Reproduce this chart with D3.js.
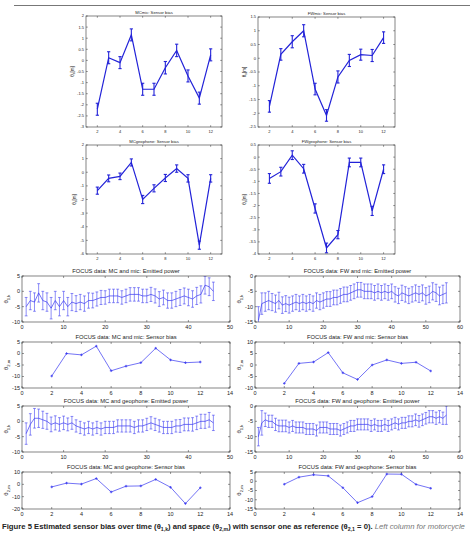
<!DOCTYPE html>
<html lang="en">
<head>
<meta charset="utf-8">
<title>Sensor bias</title>
<script src="https://d3js.org/d3.v7.min.js"></script>
<style>
  body, html { margin: 0; padding: 0; background: #fff; overflow: hidden; }
  text { font-family: "Liberation Sans", Arial, sans-serif; fill: #222; }
</style>
</head>
<body>
<svg width="474" height="534"></svg>
<script>
// ---- data: top 2x2 sensor bias (sensor index 2..12) ----
var sensors = [2, 3, 4, 5, 6, 7, 8, 9, 10, 11, 12];
var mcMicBias = [-2.2, 0.12, -0.1, 1.15, -1.3, -1.3, -0.33, 0.45, -0.7, -1.7, 0.25];
var mcMicErr = [0.27, 0.27, 0.27, 0.27, 0.27, 0.27, 0.28, 0.28, 0.27, 0.27, 0.27];
var fwMicBias = [-1.75, 0.14, 0.6, 1.0, -1.12, -2.08, -0.68, -0.08, 0.13, 0.1, 0.75];
var fwMicErr = [0.21, 0.21, 0.22, 0.22, 0.21, 0.21, 0.22, 0.22, 0.2, 0.22, 0.21];
var mcGeoBias = [-1.35, -0.45, -0.3, 0.72, -2.0, -1.18, -0.42, 0.27, -0.45, -5.35, -0.45];
var mcGeoErr = [0.26, 0.25, 0.24, 0.26, 0.3, 0.26, 0.26, 0.27, 0.27, 0.3, 0.27];
var fwGeoBias = [-0.88, -0.6, 0.08, -0.48, -2.12, -3.75, -3.2, -0.22, -0.22, -2.22, -0.5];
var fwGeoErr = [0.2, 0.18, 0.18, 0.18, 0.19, 0.2, 0.17, 0.18, 0.18, 0.19, 0.18];

// ---- data: FOCUS emitted power over time ----
var mcMicPower = [-5, -3, -3.5, -0.5, -3, -3.5, -5.5, -3, -5, -3, -5, -3.5, -4, -3.5, -4, -3,
  -3, -2.5, -2, -2, -1.5, -1.5, -1.5, -2, -1.5, -1, -1, -1, -1.5, -1.5, -1, -1.5, -2.5, -2,
  -3, -3, -2.5, -2, -1.5, -2, -2.5, -1.5, -1, 2, 1.5, 0];
var mcMicPowerErr = [3, 3, 3, 3, 3, 3, 3.5, 3, 3, 3, 3, 2.8, 2.6, 2.5, 2.5, 2.5, 2.4, 2.3,
  2.3, 2.2, 2.2, 2.2, 2.2, 2.2, 2.2, 2.2, 2.2, 2.2, 2.2, 2.2, 2.3, 2.3, 2.4, 2.4, 2.5, 2.5,
  2.5, 2.6, 2.6, 2.7, 2.7, 2.8, 2.8, 2.9, 2.9, 3];
var fwMicPower = [-14.5, -9, -8.5, -8, -8.5, -9, -8, -9.5, -9, -9.5, -9, -8.5, -9, -8.5, -9,
  -8.5, -9, -8, -8.5, -8, -7.5, -7.5, -7, -7, -6.5, -6, -6, -5.5, -5, -4.5, -4.5, -5, -5, -5,
  -5.5, -5, -5.5, -5, -5.5, -5, -6, -6.5, -5.5, -6, -6.5, -6, -5.5, -6, -5.5, -6.5, -6, -5,
  -5.5, -6.5, -6, -5.5];
var fwMicPowerErr = [4.5, 3.5, 3, 3, 2.8, 2.8, 2.7, 2.7, 2.6, 2.6, 2.5, 2.5, 2.5, 2.5, 2.5,
  2.5, 2.5, 2.5, 2.5, 2.5, 2.4, 2.4, 2.4, 2.4, 2.4, 2.4, 2.4, 2.4, 2.4, 2.4, 2.4, 2.4, 2.4,
  2.4, 2.4, 2.4, 2.4, 2.4, 2.4, 2.4, 2.5, 2.5, 2.5, 2.5, 2.5, 2.5, 2.6, 2.6, 2.6, 2.7, 2.7,
  2.8, 2.8, 2.9, 3, 3.3];
var mcGeoPower = [-4, -1, 1, 1, 0.5, 0, -1, -0.5, -1, -0.5, -1, -0.5, -1.5, -2, -2.5, -2,
  -2.5, -2, -2.5, -2, -2, -2, -1.5, -1.5, -1.5, -1.5, -2, -1.5, -1.5, -1, -0.5, -1, -1.5, -2,
  -2, -2, -1.5, -1.5, -1, -1, -1, -0.5, 0, 0, 0.5, -0.5];
var mcGeoPowerErr = [3.5, 3.5, 3.2, 3, 2.8, 2.6, 2.4, 2.3, 2.2, 2.2, 2.1, 2.1, 2, 2, 2, 2,
  2, 2, 2, 2, 2, 2, 2, 2, 2, 2, 2, 2, 2, 2, 2, 2, 2, 2, 2, 2, 2, 2.1, 2.1, 2.1, 2.2, 2.2, 2.3,
  2.3, 2.4, 2.5];
var fwGeoPower = [-10, -5.5, -4.5, -5, -5, -6, -6.5, -6.5, -6.5, -7, -6.5, -7, -7, -7, -7.5,
  -7.5, -7.5, -8, -7, -7, -7, -7.5, -7.5, -7.5, -8, -7.5, -7, -6.5, -6.5, -6, -6, -6, -6,
  -6.5, -6, -6.5, -6.5, -6, -6.5, -6, -5.5, -6, -5.5, -5.5, -5, -5, -4.5, -5, -4.5, -4,
  -3.5, -3.5, -4, -3.5, -4, -3];
var fwGeoPowerErr = [3, 4, 2.2, 2, 2, 2, 1.9, 1.9, 1.9, 1.8, 1.8, 1.8, 1.8, 1.8, 1.8, 1.8,
  1.8, 1.8, 1.8, 1.8, 1.8, 1.8, 1.8, 1.8, 1.8, 1.8, 1.8, 1.8, 1.8, 1.8, 1.8, 1.8, 1.8, 1.8,
  1.8, 1.8, 1.8, 1.8, 1.8, 1.8, 1.8, 1.8, 1.8, 1.8, 1.8, 1.8, 1.9, 1.9, 1.9, 1.9, 2, 2, 2,
  2, 2, 3];

// ---- data: FOCUS sensor bias (dB) ----
var mcMicSensor = [-9.8, 0, -0.6, 3.2, -7.5, -5.5, -4, 2.3, -2.8, -4, -3.7];
var fwMicSensor = [-8, 0.7, 1.3, 5.4, -3.4, -6.3, 0, 2.2, 0.7, 1.2, -2.6];
var mcGeoSensor = [-2.1, 1, 0.2, 4.7, -6.2, -1.5, -1.3, 4, -2.4, -15.6, -2.8];
var fwGeoSensor = [-1.6, 2.2, 3.5, 2.9, -3.5, -11.6, -8.3, 3.9, 3.8, -1.7, -3.8];

var svg = d3.select("svg");
var clipId = 0;

function seq(n) { return d3.range(1, n + 1); }

// one matlab-style panel
function panel(o) {
    var x = d3.scaleLinear().domain(o.xDomain).range([o.left, o.right]);
    var y = d3.scaleLinear().domain(o.yDomain).range([o.bottom, o.top]);
    var g = svg.append("g");
    var fs = o.fontSize, tl = o.tickLen;

    // ticks, mirrored inside the box
    o.xTicks.forEach(function (t) {
        g.append("line").attr("x1", x(t)).attr("x2", x(t)).attr("y1", o.bottom).attr("y2", o.bottom - tl)
            .attr("stroke", "#333").attr("stroke-width", 0.5);
        g.append("line").attr("x1", x(t)).attr("x2", x(t)).attr("y1", o.top).attr("y2", o.top + tl)
            .attr("stroke", "#333").attr("stroke-width", 0.5);
        g.append("text").attr("x", x(t)).attr("y", o.bottom + fs + 1.5)
            .attr("text-anchor", "middle").style("font-size", fs + "px").text(t);
    });
    o.yTicks.forEach(function (t) {
        g.append("line").attr("x1", o.left).attr("x2", o.left + tl).attr("y1", y(t)).attr("y2", y(t))
            .attr("stroke", "#333").attr("stroke-width", 0.5);
        g.append("line").attr("x1", o.right).attr("x2", o.right - tl).attr("y1", y(t)).attr("y2", y(t))
            .attr("stroke", "#333").attr("stroke-width", 0.5);
        g.append("text").attr("x", o.left - 2).attr("y", y(t) + fs * 0.35)
            .attr("text-anchor", "end").style("font-size", fs + "px").text(t);
    });

    var id = "clip" + (clipId++);
    g.append("clipPath").attr("id", id).append("rect")
        .attr("x", o.left).attr("y", o.top).attr("width", o.right - o.left).attr("height", o.bottom - o.top);
    var plot = g.append("g").attr("clip-path", "url(#" + id + ")");

    var pts = o.xs.map(function (d, i) { return { x: d, y: o.ys[i], e: o.errs ? o.errs[i] : 0 }; });

    if (o.errs) {
        var cap = o.capW;
        pts.forEach(function (p) {
            var a = y(p.y - p.e), b = y(p.y + p.e), cx = x(p.x);
            plot.append("line").attr("x1", cx).attr("x2", cx).attr("y1", a).attr("y2", b)
                .attr("stroke", o.errColor).attr("stroke-width", o.errWidth);
            [a, b].forEach(function (yy) {
                plot.append("line").attr("x1", cx - cap).attr("x2", cx + cap).attr("y1", yy).attr("y2", yy)
                    .attr("stroke", o.errColor).attr("stroke-width", o.errWidth);
            });
        });
    }

    plot.append("path").datum(pts)
        .attr("d", d3.line().x(function (d) { return x(d.x); }).y(function (d) { return y(d.y); }))
        .attr("fill", "none").attr("stroke", o.color).attr("stroke-width", o.lineWidth);

    if (o.markers) {
        plot.selectAll(".mk").data(pts).enter().append("path")
            .attr("d", function (d) {
                var cx = x(d.x), cy = y(d.y), s = 1.3;
                return "M" + (cx - s) + "," + cy + "H" + (cx + s) + "M" + cx + "," + (cy - s) + "V" + (cy + s);
            })
            .attr("stroke", o.color).attr("stroke-width", 0.8);
    }

    g.append("rect").attr("x", o.left).attr("y", o.top)
        .attr("width", o.right - o.left).attr("height", o.bottom - o.top)
        .attr("fill", "none").attr("stroke", "#333").attr("stroke-width", 0.6);

    g.append("text").attr("x", (o.left + o.right) / 2).attr("y", o.top - o.titleGap)
        .attr("text-anchor", "middle").style("font-size", o.titleSize + "px").text(o.title);

    var yl = g.append("text")
        .attr("transform", "translate(" + o.ylabelX + "," + (o.top + o.bottom) / 2 + ") rotate(-90)")
        .attr("text-anchor", "middle").style("font-size", o.ylabelSize + "px");
    yl.append("tspan").text(o.ylabel[0]);
    yl.append("tspan").attr("dy", o.ylabelSize * 0.3).style("font-size", (o.ylabelSize * 0.7) + "px").text(o.ylabel[1]);
    if (o.ylabel[2]) yl.append("tspan").attr("dy", -o.ylabelSize * 0.3).text(o.ylabel[2]);
}

// top border
svg.append("line").attr("x1", 14).attr("x2", 470).attr("y1", 5.5).attr("y2", 5.5)
    .attr("stroke", "#777").attr("stroke-width", 1);

// ---- top 2x2 ----
var topStyle = {
    xDomain: [1, 13], xTicks: [2, 4, 6, 8, 10, 12], fontSize: 4, tickLen: 1.8,
    titleSize: 4.2, titleGap: 2, ylabelSize: 4.5, color: "#2222d8", lineWidth: 1.2,
    errColor: "#2222d8", errWidth: 1.1, capW: 1.6
};
function topPanel(extra) { panel(Object.assign({}, topStyle, extra)); }

topPanel({ left: 86, right: 222, top: 16, bottom: 127, ylabelX: 74,
    yDomain: [-3, 2], yTicks: d3.range(-3, 2.01, 0.5).map(function (v) { return +v.toFixed(1); }),
    title: "MCmic: Sensor bias", ylabel: ["θ", "s", "[m]"], xs: sensors, ys: mcMicBias, errs: mcMicErr });
topPanel({ left: 258, right: 395, top: 17, bottom: 127, ylabelX: 246,
    yDomain: [-2.5, 1.5], yTicks: d3.range(-2.5, 1.51, 0.5).map(function (v) { return +v.toFixed(1); }),
    title: "FWmic: Sensor bias", ylabel: ["θ", "s", "[m]"], xs: sensors, ys: fwMicBias, errs: fwMicErr });
topPanel({ left: 86, right: 222, top: 145, bottom: 254, ylabelX: 76,
    yDomain: [-6, 2], yTicks: d3.range(-6, 2.01, 1),
    title: "MCgeophone: Sensor bias", ylabel: ["θ", "s", "[m]"], xs: sensors, ys: mcGeoBias, errs: mcGeoErr });
topPanel({ left: 258, right: 395, top: 145, bottom: 254, ylabelX: 246,
    yDomain: [-4, 0.5], yTicks: d3.range(-4, 0.51, 0.5).map(function (v) { return +v.toFixed(1); }),
    title: "FWgeophone: Sensor bias", ylabel: ["θ", "s", "[m]"], xs: sensors, ys: fwGeoBias, errs: fwGeoErr });

// ---- FOCUS grid ----
var focusStyle = {
    fontSize: 5.5, tickLen: 2, titleSize: 5.8, titleGap: 3, ylabelSize: 6,
    color: "#3636f0", lineWidth: 0.7, errColor: "#4040f2", errWidth: 0.6, capW: 1.4
};
function focusPanel(extra) { panel(Object.assign({}, focusStyle, extra)); }
var L = { left: 22, right: 230, ylabelX: 8 }, R = { left: 255, right: 460, ylabelX: 241 };
var rows = [{ top: 276, bottom: 322 }, { top: 342, bottom: 388 }, { top: 406, bottom: 452 }, { top: 472, bottom: 509 }];

focusPanel(Object.assign({}, L, rows[0], {
    xDomain: [0, 50], xTicks: d3.range(0, 51, 10), yDomain: [-10, 5], yTicks: [-10, -5, 0, 5],
    title: "FOCUS data: MC and mic: Emitted power", ylabel: ["θ", "1,k"],
    xs: seq(mcMicPower.length), ys: mcMicPower, errs: mcMicPowerErr }));
focusPanel(Object.assign({}, R, rows[0], {
    xDomain: [0, 60], xTicks: d3.range(0, 61, 10), yDomain: [-15, 0], yTicks: [-15, -10, -5, 0],
    title: "FOCUS data: FW and mic: Emitted power", ylabel: ["θ", "1,k"],
    xs: seq(fwMicPower.length), ys: fwMicPower, errs: fwMicPowerErr }));
focusPanel(Object.assign({}, L, rows[1], {
    xDomain: [0, 14], xTicks: d3.range(0, 15, 2), yDomain: [-15, 5], yTicks: [-15, -10, -5, 0, 5],
    title: "FOCUS data: MC and mic: Sensor bias", ylabel: ["θ", "2,m"],
    xs: sensors, ys: mcMicSensor, markers: true }));
focusPanel(Object.assign({}, R, rows[1], {
    xDomain: [0, 14], xTicks: d3.range(0, 15, 2), yDomain: [-10, 10], yTicks: [-10, -5, 0, 5, 10],
    title: "FOCUS data: FW and mic: Sensor bias", ylabel: ["θ", "2,m"],
    xs: sensors, ys: fwMicSensor, markers: true }));
focusPanel(Object.assign({}, L, rows[2], {
    xDomain: [0, 50], xTicks: d3.range(0, 51, 10), yDomain: [-10, 5], yTicks: [-10, -5, 0, 5],
    title: "FOCUS data: MC and geophone: Emitted power", ylabel: ["θ", "1,k"],
    xs: seq(mcGeoPower.length), ys: mcGeoPower, errs: mcGeoPowerErr }));
focusPanel(Object.assign({}, R, rows[2], {
    xDomain: [0, 60], xTicks: d3.range(0, 61, 10), yDomain: [-15, 0], yTicks: [-15, -10, -5, 0],
    title: "FOCUS data: FW and geophone: Emitted power", ylabel: ["θ", "1,k"],
    xs: seq(fwGeoPower.length), ys: fwGeoPower, errs: fwGeoPowerErr }));
focusPanel(Object.assign({}, L, rows[3], {
    xDomain: [0, 14], xTicks: d3.range(0, 15, 2), yDomain: [-20, 10], yTicks: [-20, -10, 0, 10],
    title: "FOCUS data: MC and geophone: Sensor bias", ylabel: ["θ", "2,m"],
    xs: sensors, ys: mcGeoSensor, markers: true }));
focusPanel(Object.assign({}, R, rows[3], {
    xDomain: [0, 14], xTicks: d3.range(0, 15, 2), yDomain: [-15, 5], yTicks: [-15, -10, -5, 0, 5],
    title: "FOCUS data: FW and geophone: Sensor bias", ylabel: ["θ", "2,m"],
    xs: sensors, ys: fwGeoSensor, markers: true }));

// ---- caption ----
var cap = svg.append("text").attr("x", 2).attr("y", 529).style("font-size", "7.7px");
var capBold = [["Figure 5 Estimated sensor bias over time (θ"], ["1,k", 1], [") and space (θ"], ["2,m", 1],
    [") with sensor one as reference (θ"], ["2,1", 1], [" = 0)."]];
capBold.forEach(function (p, i) {
    var prevSub = i > 0 && capBold[i - 1][1];
    var t = cap.append("tspan").style("font-weight", "bold").text(p[0]);
    if (p[1]) t.attr("dy", 1.5).style("font-size", "5.2px");
    else if (prevSub) t.attr("dy", -1.5);
});
cap.append("tspan").style("font-style", "italic").style("fill", "#777").text(" Left column for motorcycle");
</script>
</body>
</html>
